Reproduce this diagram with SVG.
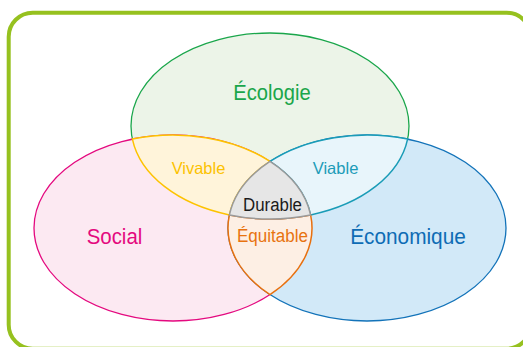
<svg xmlns="http://www.w3.org/2000/svg" width="523" height="347" viewBox="0 0 523 347">
<style>
text{font-family:"Liberation Sans",Arial,sans-serif;text-anchor:middle}
.big{font-size:22.5px}
.small{font-size:16.5px}
.mid{font-size:18px}
.ell{stroke-width:1.3}
.reg{stroke-width:1.5;stroke-linejoin:round}
</style>
<rect x="8.7" y="12.7" width="522" height="336" rx="24" fill="#fff" stroke="#96c11f" stroke-width="4"/>
<g id="ecologie">
<ellipse class="ell" cx="270" cy="126" rx="139" ry="93" fill="#ecf4e8" stroke="#1aa64b"/>
</g>
<g id="social">
<ellipse class="ell" cx="173" cy="228" rx="139" ry="93" fill="#fce9f2" stroke="#e4097f"/>
</g>
<g id="economique">
<ellipse class="ell" cx="367" cy="228" rx="139" ry="93" fill="#d2e9f8" stroke="#1373b9"/>
</g>
<g id="vivable">
<path class="reg" d="M132.4,139.1 A139,93 0 0 0 229.4,214.9 A139,93 0 0 1 270,161.4 A139,93 0 0 0 132.4,139.1 Z" fill="#fff4da" stroke="#fdc300"/>
</g>
<g id="viable">
<path class="reg" d="M407.6,139.1 A139,93 0 0 0 270,161.4 A139,93 0 0 1 310.6,214.9 A139,93 0 0 0 407.6,139.1 Z" fill="#e8f5fb" stroke="#1a9cb7"/>
</g>
<g id="equitable">
<path class="reg" d="M229.4,214.9 A139,93 0 0 0 310.6,214.9 A139,93 0 0 1 270,294.6 A139,93 0 0 1 229.4,214.9 Z" fill="#fdefe4" stroke="#e8700f"/>
</g>
<g id="durable">
<path class="reg" d="M270,161.4 A139,93 0 0 0 229.4,214.9 A139,93 0 0 0 310.6,214.9 A139,93 0 0 0 270,161.4 Z" fill="#e6e6e6" stroke="#9a9a9a"/>
</g>
<g id="labels">
<text class="big" x="272" y="99.5" fill="#1aa64b" textLength="77.4" lengthAdjust="spacingAndGlyphs">Écologie</text>
<text class="big" x="114.5" y="243.5" fill="#e4097f" textLength="55.7" lengthAdjust="spacingAndGlyphs">Social</text>
<text class="big" x="408" y="243.5" fill="#0e6cb5" textLength="115.7" lengthAdjust="spacingAndGlyphs">Économique</text>
<text class="small" x="198.5" y="173.5" fill="#fcc200" textLength="53.7" lengthAdjust="spacingAndGlyphs">Vivable</text>
<text class="small" x="335.5" y="173.5" fill="#1c9cb8" textLength="45.7" lengthAdjust="spacingAndGlyphs">Viable</text>
<text class="mid" x="272.5" y="211" fill="#1a1a1a" textLength="59" lengthAdjust="spacingAndGlyphs">Durable</text>
<text class="mid" x="272.5" y="242" fill="#e8730f" textLength="71" lengthAdjust="spacingAndGlyphs">Équitable</text>
</g>
</svg>
